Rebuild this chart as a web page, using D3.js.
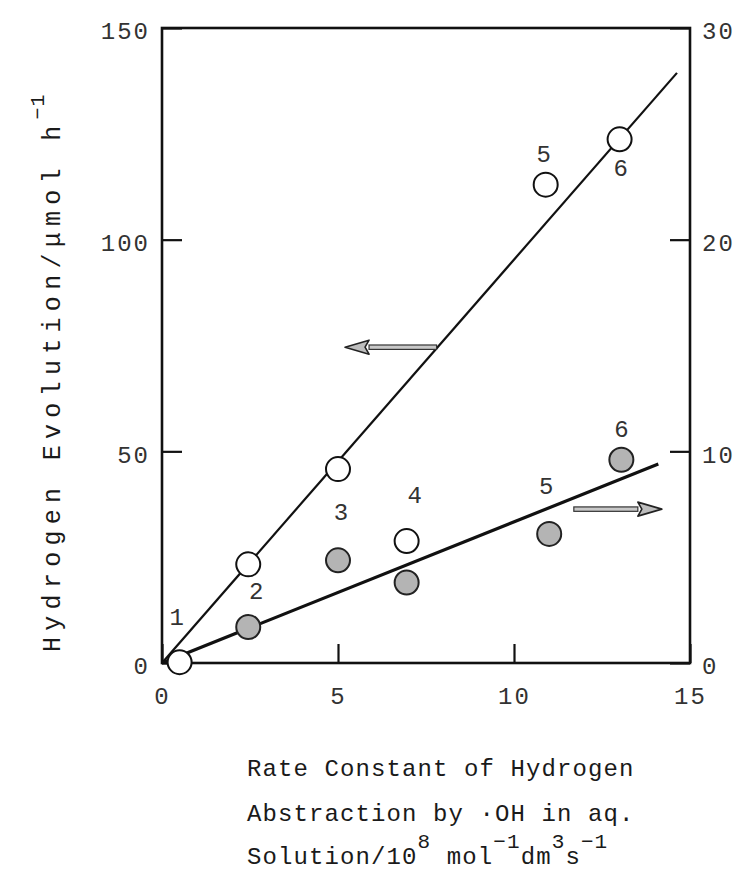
<!DOCTYPE html>
<html>
<head>
<meta charset="utf-8">
<script src="https://cdn.jsdelivr.net/npm/d3@7"></script>
<style>
  html, body { margin: 0; padding: 0; background: #fff; }
  svg { display: block; }
  .mono { font-family: "Liberation Mono", "DejaVu Sans Mono", monospace; fill: #1a1a1a; }
</style>
</head>
<body>
<svg id="chart" width="740" height="875"></svg>
<script>
// Rate constants of H abstraction by ·OH (10^8 mol^-1 dm^3 s^-1)
const openX = [0.5, 2.45, 5.0, 6.95, 10.9, 13.0];
// Hydrogen evolution, left axis (µmol h^-1)
const openY = [0.2, 23.3, 45.8, 28.8, 113, 123.7];
const openLabels = ["1", "2", "3", "4", "5", "6"];

// Second series, right axis
const greyX = [2.45, 5.0, 6.95, 11.0, 13.05];
const greyY = [1.7, 4.85, 3.8, 6.1, 9.6];
const greyLabels = ["", "", "", "5", "6"];

// Fitted lines: [x0, y0, x1, y1]
const openFit = [0, 0, 14.63, 139.4];
const greyFit = [0, 0, 14.1, 9.4];

// Tick values
const xTicks = [0, 5, 10, 15];
const yLeftTicks = [0, 50, 100, 150];
const yRightTicks = [0, 10, 20, 30];

const svg = d3.select("#chart");
const plotL = 162, plotR = 690, plotT = 28, plotB = 663;

const x = d3.scaleLinear().domain([0, 15]).range([plotL, plotR]);
const yL = d3.scaleLinear().domain([0, 150]).range([plotB, plotT]);
const yR = d3.scaleLinear().domain([0, 30]).range([plotB, plotT]);

const tickFont = 24;

// Axes with inward ticks
const gx = svg.append("g").attr("transform", `translate(0,${plotB})`)
  .call(d3.axisBottom(x).tickValues(xTicks).tickSizeInner(-19).tickSizeOuter(0).tickPadding(34));
const gl = svg.append("g").attr("transform", `translate(${plotL},0)`)
  .call(d3.axisLeft(yL).tickValues(yLeftTicks).tickSizeInner(-20).tickSizeOuter(0).tickPadding(12));
const gr = svg.append("g").attr("transform", `translate(${plotR},0)`)
  .call(d3.axisRight(yR).tickValues(yRightTicks).tickSizeInner(-20).tickSizeOuter(0).tickPadding(12));

[gx, gl, gr].forEach(g => {
  g.select(".domain").remove();
  g.selectAll(".tick line").attr("stroke", "#111").attr("stroke-width", 2.2);
  g.selectAll(".tick text")
    .attr("class", "mono")
    .style("font-size", tickFont + "px")
    .style("letter-spacing", "2px")
    .style("fill", "#333");
});
gx.selectAll(".tick text").attr("dy", "0.3em");
gl.selectAll(".tick text").attr("dy", "0.45em");
gr.selectAll(".tick text").attr("dy", "0.45em");

// Plot frame
svg.append("rect")
  .attr("x", x(0)).attr("y", yL(150))
  .attr("width", x(15) - x(0)).attr("height", yL(0) - yL(150))
  .attr("fill", "none").attr("stroke", "#111").attr("stroke-width", 2.6);

// Fitted lines
svg.append("line")
  .attr("x1", x(openFit[0])).attr("y1", yL(openFit[1]))
  .attr("x2", x(openFit[2])).attr("y2", yL(openFit[3]))
  .attr("stroke", "#111").attr("stroke-width", 2.2);
svg.append("line")
  .attr("x1", x(greyFit[0])).attr("y1", yR(greyFit[1]))
  .attr("x2", x(greyFit[2])).attr("y2", yR(greyFit[3]))
  .attr("stroke", "#111").attr("stroke-width", 3.2);

// Direction arrows (which axis each line belongs to)
function arrow(xa, xb, yy) {
  const x1 = x(xa), x2 = x(xb);
  const dir = Math.sign(x2 - x1);
  const headLen = 24, headHalf = 7, shaftHalf = 2.2;
  const xh = x2 - dir * headLen;
  const g = svg.append("g");
  g.append("rect")
    .attr("x", Math.min(x1, xh)).attr("y", yy - shaftHalf)
    .attr("width", Math.abs(xh - x1)).attr("height", shaftHalf * 2)
    .attr("fill", "#c8c8c8").attr("stroke", "#333").attr("stroke-width", 1.2);
  g.append("path")
    .attr("d", `M${x2},${yy} L${xh},${yy - headHalf} L${xh + dir * 4},${yy} L${xh},${yy + headHalf} Z`)
    .attr("fill", "#bdbdbd").attr("stroke", "#222").attr("stroke-width", 1.6)
    .attr("stroke-linejoin", "round");
}
arrow(7.8, 5.2, yL(74.6));
arrow(11.7, 14.2, yR(7.27));

// Markers
const r = 12;
svg.append("g").selectAll("circle").data(greyX.map((d, i) => [d, greyY[i]])).join("circle")
  .attr("cx", d => x(d[0])).attr("cy", d => yR(d[1])).attr("r", r)
  .attr("fill", "#b4b4b4").attr("stroke", "#222").attr("stroke-width", 2);
svg.append("g").selectAll("circle").data(openX.map((d, i) => [d, openY[i]])).join("circle")
  .attr("cx", d => x(d[0])).attr("cy", d => yL(d[1])).attr("r", r)
  .attr("fill", "#fff").attr("stroke", "#111").attr("stroke-width", 2);

// Point numbers, offset from their markers
const openOff = [[-3, -44], [8, 28], [3, 44], [8, -45], [-2, -29], [1, 30]];
const greyOff = [[0, 0], [0, 0], [0, 0], [-3, -46], [0, -29]];
const numFont = 24;
svg.append("g").selectAll("text").data(openLabels).join("text")
  .attr("class", "mono")
  .attr("x", (d, i) => x(openX[i]) + openOff[i][0])
  .attr("y", (d, i) => yL(openY[i]) + openOff[i][1])
  .attr("text-anchor", "middle").attr("dominant-baseline", "central")
  .style("font-size", numFont + "px").style("fill", "#333")
  .text(d => d);
svg.append("g").selectAll("text").data(greyLabels).join("text")
  .attr("class", "mono")
  .attr("x", (d, i) => x(greyX[i]) + greyOff[i][0])
  .attr("y", (d, i) => yR(greyY[i]) + greyOff[i][1])
  .attr("text-anchor", "middle").attr("dominant-baseline", "central")
  .style("font-size", numFont + "px").style("fill", "#333")
  .text(d => d);

// Y axis title
const yTitle = svg.append("text")
  .attr("class", "mono")
  .attr("transform", "translate(60,652) rotate(-90)")
  .style("font-size", "25px").style("letter-spacing", "6.3px");
yTitle.append("tspan").text("Hydrogen Evolution/\u03bcmol h");
yTitle.append("tspan").attr("dy", -16).style("font-size", "20px").style("letter-spacing", "1px").text("\u22121");

// X axis title (three lines)
const xt = svg.append("g").attr("class", "mono").style("font-size", "24px").style("letter-spacing", "1.1px");
xt.append("text").attr("class", "mono").attr("x", 247).attr("y", 776).text("Rate Constant of Hydrogen");
xt.append("text").attr("class", "mono").attr("x", 247).attr("y", 821).text("Abstraction by \u00b7OH in aq.");
const l3 = xt.append("text").attr("class", "mono").attr("x", 247).attr("y", 864);
l3.append("tspan").text("Solution/10");
l3.append("tspan").attr("dy", -16).style("font-size", "21px").text("8");
l3.append("tspan").attr("dy", 16).text(" mol");
l3.append("tspan").attr("dy", -16).style("font-size", "21px").text("\u22121");
l3.append("tspan").attr("dy", 16).text("dm");
l3.append("tspan").attr("dy", -16).style("font-size", "21px").text("3");
l3.append("tspan").attr("dy", 16).text("s");
l3.append("tspan").attr("dy", -16).style("font-size", "21px").text("\u22121");
</script>
</body>
</html>
